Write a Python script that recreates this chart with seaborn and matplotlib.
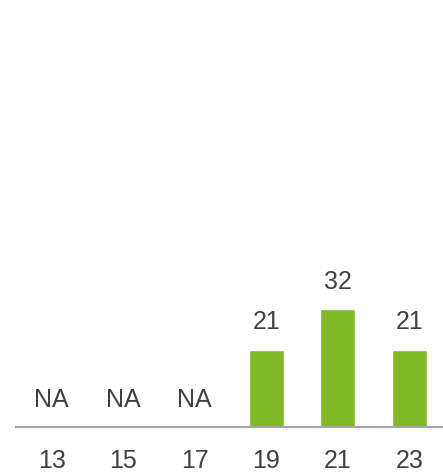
import numpy as np
import pandas as pd
import matplotlib.pyplot as plt
import seaborn as sns

plt.switch_backend('Agg')

categories = ['13', '15', '17', '19', '21', '23']
values = [np.nan, np.nan, np.nan, 21, 32, 21]

df = pd.DataFrame({'cat': categories, 'val': values})

sns.set_theme(style="white")
plt.rcParams['font.family'] = ['Liberation Sans', 'DejaVu Sans']

fig = plt.figure(figsize=(4.43, 4.76), dpi=100)
ax = fig.add_axes([16 / 443, 49 / 476, 429 / 443, 427 / 476])

sns.barplot(data=df, x='cat', y='val', color='#80b928', width=0.49,
            saturation=1, ax=ax)

ax.set_ylim(0, 116)
ax.set_xlim(-0.5, 5.5)

# value labels, NA where missing
for i, v in enumerate(values):
    txt = 'NA' if np.isnan(v) else f'{int(v)}'
    y = 0 if np.isnan(v) else v
    ax.annotate(txt, (i, y), xytext=(0, 11), textcoords='offset points',
                ha='center', va='bottom', fontsize=18, color='#404040')

for s in ['top', 'right', 'left']:
    ax.spines[s].set_visible(False)
ax.spines['bottom'].set_color('#a6a6a6')
ax.spines['bottom'].set_linewidth(1.5)

ax.set_yticks([])
ax.set_xlabel('')
ax.set_ylabel('')
ax.tick_params(axis='x', length=0, pad=16, labelsize=18, labelcolor='#404040')

fig.savefig('out.png', dpi=100)
plt.close('all')
